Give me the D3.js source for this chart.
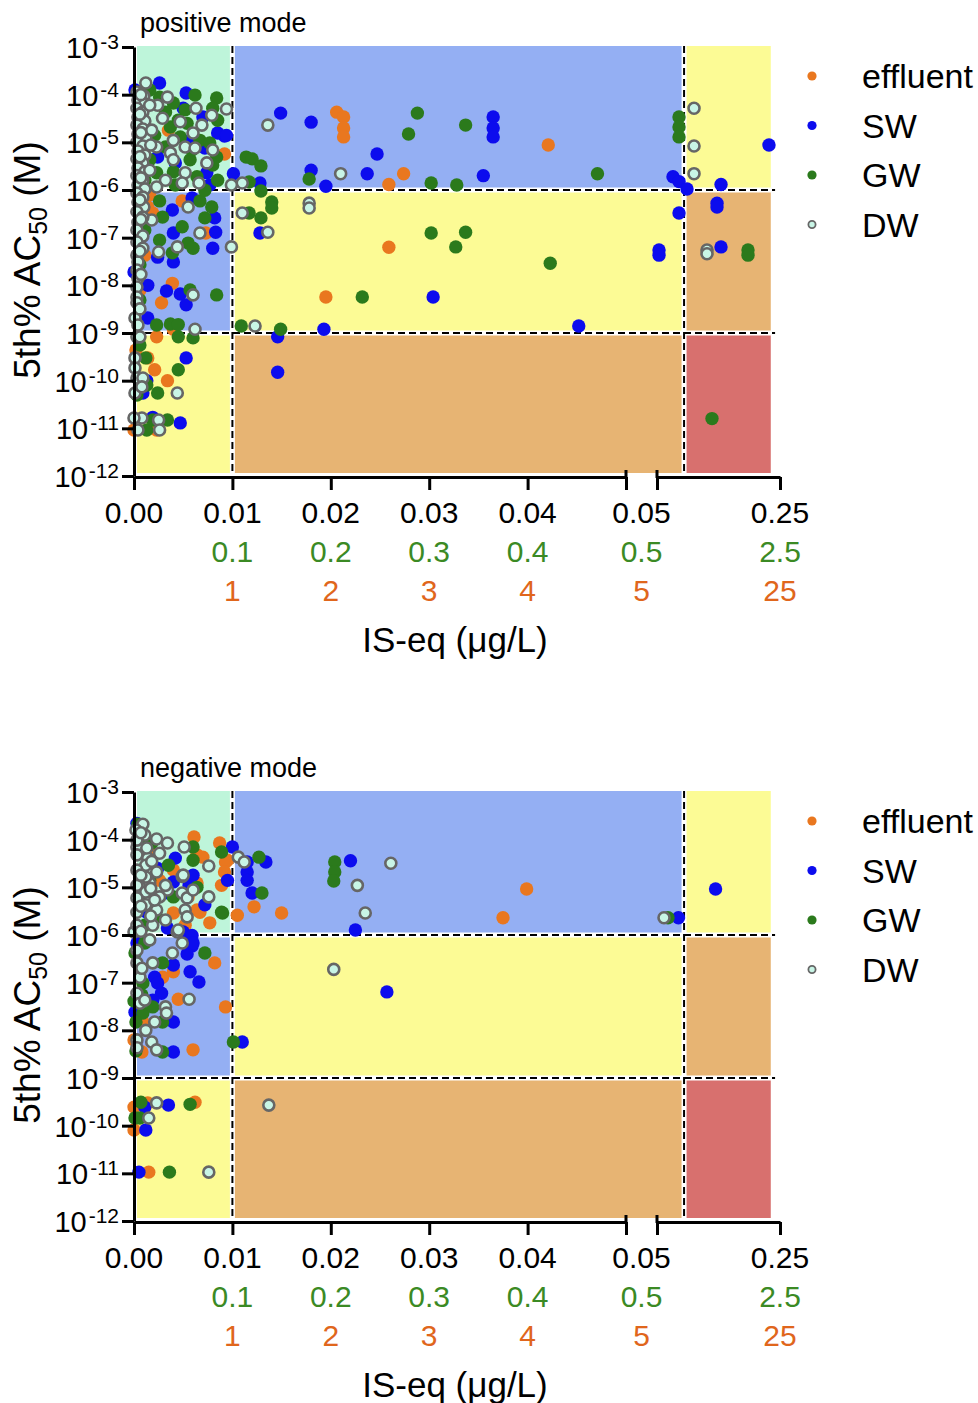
<!DOCTYPE html>
<html>
<head>
<meta charset="utf-8">
<script src="https://cdn.jsdelivr.net/npm/d3@7"></script>
<style>
body { margin: 0; background: #fff; }
text { font-family: "Liberation Sans", Arial, sans-serif; }
</style>
</head>
<body>
<script>
// series and their colours
var series = ["effluent", "SW", "GW", "DW"];
var seriesColor = {effluent: "#e9771f", SW: "#0c0cee", GW: "#2b7a1c", DW: "#c8f5e6"};

// axis ticks and labels
var yTicks = [1e-3, 1e-4, 1e-5, 1e-6, 1e-7, 1e-8, 1e-9, 1e-10, 1e-11, 1e-12];
var xTickValues = [0, 0.01, 0.02, 0.03, 0.04, 0.05, 0.25];
var xTickLabels = ["0.00", "0.01", "0.02", "0.03", "0.04", "0.05", "0.25"];
var greenTickValues = [0.01, 0.02, 0.03, 0.04, 0.05, 0.25];
var greenLabels = ["0.1", "0.2", "0.3", "0.4", "0.5", "2.5"];
var orangeLabels = ["1", "2", "3", "4", "5", "25"];

// zones behind the points
var zoneX = [0, 0.01, 0.094, 0.235];
var zoneY = [1e-3, 1e-6, 1e-9, 1e-12];
var zoneColors = [["#bef5da", "#94aff3", "#fcfb95"],
                  ["#94aff3", "#fcfb95", "#e7b473"],
                  ["#fcfb95", "#e7b473", "#d8706e"]];
var xThresholds = [0.01, 0.094];
var yThresholds = [1e-6, 1e-9];

// [IS-eq (ug/L), 5th% AC50 (M)]  -- positive mode
var posEffluent = [[0.0206,4.3e-5],[0.0213,3.4e-5],[0.0213,2.0e-5],[0.0213,1.3e-5],[0.0421,8.8e-6],[0.0274,2.2e-6],[0.0259,1.3e-6],[0.0259,6.3e-8],[0.0195,5.7e-9],[0.0092,5.7e-6],
  [0.0035,1.8e-5],[0.0065,1.1e-5],[0.0049,5.9e-7],[0.0019,3.3e-7],[0.0014,4.4e-7],[0.0073,1.25e-7],[0.0039,1.1e-8],[0.0028,4.3e-9],[0.0040,1.2e-9],[0.0023,8.3e-10],
  [0.0014,3.0e-10],[0.0021,1.7e-10],[0.0034,1.0e-10],[0.0000,9.2e-12],[0.0023,9.2e-12],[0.0011,4.3e-8],[0.0016,7.9e-7],[0.0002,4.4e-10],[0.0006,8.0e-9]];
var posSW = [[0.0149,4.1e-5],[0.0180,2.65e-5],[0.0365,3.4e-5],[0.0365,2.0e-5],[0.0365,1.3e-5],[0.0247,5.7e-6],[0.0180,2.6e-6],[0.0237,2.2e-6],[0.0355,2.0e-6],[0.0195,1.2e-6],
  [0.0101,2.2e-6],[0.0128,1.4e-6],[0.0092,1.35e-5],[0.0128,1.25e-7],[0.0304,5.7e-9],[0.0193,1.2e-9],[0.0452,1.4e-9],[0.0146,8.3e-10],[0.0146,1.5e-10],
  [0.0760,1.9e-6],[0.0858,1.5e-6],[0.0988,1.05e-6],[0.1541,1.3e-6],[0.1476,5.3e-7],[0.1476,4.4e-7],[0.0858,3.3e-7],[0.0533,5.5e-8],[0.0533,4.3e-8],[0.1541,6.4e-8],[0.2321,8.8e-6],
  [0.0026,1.76e-4],[0.0053,1.08e-4],[0.0070,3.4e-5],[0.0085,1.57e-5],[0.0094,1.4e-5],[0.0024,4.9e-6],[0.0074,2.3e-6],[0.0077,1.27e-6],[0.0059,6.8e-7],[0.0039,3.8e-7],
  [0.0082,2.6e-7],[0.0083,1.3e-7],[0.0040,1.25e-7],[0.0080,6.0e-8],[0.0040,3.1e-8],[0.0024,3.9e-8],[0.0033,7.6e-9],[0.0047,6.6e-9],[0.0053,3.9e-9],[0.0014,1.0e-8],
  [0.0014,2.06e-9],[0.0000,1.9e-8],[0.0053,3.0e-10],[0.0013,1.0e-10],[0.0009,5.5e-11],[0.0019,1.7e-11],[0.0047,1.3e-11],[0.0050,5.2e-5],[0.0072,7.6e-6],[0.0042,3.7e-6],
  [0.0057,1.1e-5],[0.0001,1.25e-4]];
var posGW = [[0.0288,4.1e-5],[0.0279,1.5e-5],[0.0337,2.3e-5],[0.0471,2.2e-6],[0.0114,4.9e-6],[0.0120,4.5e-6],[0.0129,3.2e-6],[0.0178,1.7e-6],[0.0302,1.4e-6],[0.0328,1.27e-6],
  [0.0117,1.47e-6],[0.0129,9.5e-7],[0.0140,5.6e-7],[0.0140,4.2e-7],[0.0117,3.3e-7],[0.0129,2.6e-7],[0.0302,1.25e-7],[0.0337,1.3e-7],[0.0327,6.4e-8],[0.0423,2.9e-8],
  [0.0232,5.7e-9],[0.0109,1.4e-9],[0.0149,1.2e-9],[0.0858,3.4e-5],[0.0858,2.1e-5],[0.0858,1.3e-5],[0.1980,5.5e-8],[0.1980,4.3e-8],[0.1394,1.6e-11],
  [0.0084,8.5e-5],[0.0080,5.2e-5],[0.0085,2.9e-5],[0.0026,8.9e-5],[0.0040,6.7e-5],[0.0052,4.8e-5],[0.0037,2.1e-5],[0.0054,2.5e-5],[0.0047,1.3e-5],[0.0067,1.1e-5],
  [0.0032,8.0e-6],[0.0077,9.7e-6],[0.0084,4.9e-6],[0.0057,4.3e-6],[0.0080,3.35e-6],[0.0040,2.4e-6],[0.0023,2.3e-6],[0.0064,1.9e-6],[0.0085,1.6e-6],[0.0042,1.27e-6],
  [0.0067,5.9e-7],[0.0029,2.7e-7],[0.0079,4.4e-7],[0.0049,1.7e-7],[0.0072,2.6e-7],[0.0026,8.9e-8],[0.0039,4.8e-8],[0.0055,7.7e-8],[0.0060,6.0e-8],[0.0057,8.0e-9],
  [0.0084,6.3e-9],[0.0023,1.47e-9],[0.0037,1.55e-9],[0.0045,1.5e-9],[0.0045,8.3e-10],[0.0060,7.9e-10],[0.0012,3.0e-10],[0.0045,1.7e-10],[0.0013,8.1e-11],[0.0024,5.5e-11],
  [0.0013,9.2e-12],[0.0019,1.5e-11],[0.0034,1.5e-11],[0.0016,1.25e-4],[0.0032,4.3e-5],[0.0062,9.8e-5],[0.0045,2.9e-5],[0.0021,1.4e-5],[0.0059,6.9e-6],[0.0016,4.3e-6],
  [0.0011,1.6e-6],[0.0072,9.9e-7],[0.0026,5.9e-7],[0.0011,1.45e-7],[0.0006,2.7e-8],[0.0006,4.9e-9],[0.0003,5.0e-11],[0.0006,5.6e-10]];
var posDW = [[0.0136,2.3e-5],[0.0210,2.2e-6],[0.0110,1.4e-6],[0.0099,1.27e-6],[0.0094,5.0e-5],[0.0178,5.3e-7],[0.0178,4.2e-7],[0.0110,3.3e-7],[0.0136,1.3e-7],[0.0099,6.4e-8],
  [0.0123,1.4e-9],[0.1102,5.2e-5],[0.1102,8.4e-6],[0.1102,2.2e-6],[0.1313,5.5e-8],[0.1313,4.6e-8],
  [0.0012,1.76e-4],[0.0034,8.9e-5],[0.0024,6.0e-5],[0.0063,5.2e-5],[0.0079,3.7e-5],[0.0029,3.2e-5],[0.0047,2.7e-5],[0.0069,2.3e-5],[0.0060,1.57e-5],[0.0040,1.1e-5],
  [0.0023,8.0e-6],[0.0052,8.0e-6],[0.0062,7.6e-6],[0.0080,6.9e-6],[0.0037,6.0e-6],[0.0040,4.3e-6],[0.0074,3.7e-6],[0.0052,2.3e-6],[0.0032,1.6e-6],[0.0066,1.4e-6],
  [0.0049,1.4e-6],[0.0023,1.16e-6],[0.0055,4.4e-7],[0.0018,2.35e-7],[0.0067,1.25e-7],[0.0025,5.0e-8],[0.0044,6.4e-8],[0.0060,6.3e-9],[0.0062,1.2e-9],[0.0044,5.5e-11],
  [0.0025,1.5e-11],[0.0026,9.2e-12],[0.0008,1.65e-11],[0.0000,1.65e-11],[0.0004,9.2e-12],
  [0.0003,1.14e-4],[0.0010,9.3e-5],[0.0004,7.7e-5],[0.0011,6.4e-5],[0.0003,5.2e-5],[0.0009,4.3e-5],[0.0004,3.4e-5],[0.0011,2.8e-5],[0.0003,2.3e-5],[0.0009,1.9e-5],
  [0.0004,1.5e-5],[0.0012,1.23e-5],[0.0003,1.0e-5],[0.0009,8.4e-6],[0.0004,6.6e-6],[0.0011,5.4e-6],[0.0003,4.5e-6],[0.0009,3.7e-6],[0.0004,2.9e-6],[0.0011,2.4e-6],
  [0.0003,2.0e-6],[0.0009,1.6e-6],[0.0004,1.27e-6],[0.0011,1.05e-6],[0.0003,8.6e-7],[0.0009,7.1e-7],[0.0004,5.6e-7],[0.0010,4.4e-7],[0.0003,3.5e-7],[0.0009,2.7e-7],
  [0.0004,2.1e-7],[0.0003,1.45e-7],[0.0009,1.08e-7],[0.0003,8.1e-8],[0.0009,6.0e-8],[0.0003,4.3e-8],[0.0004,3.1e-8],[0.0003,2.1e-8],[0.0004,1.4e-8],[0.0003,9.2e-9],
  [0.0003,5.7e-9],[0.0003,4.3e-9],[0.0001,2.06e-9],[0.0004,1.47e-9],[0.0003,8.3e-10],[0.0006,8.3e-10],[0.0001,3.0e-10],[0.0001,1.85e-10],[0.0003,1.14e-10],[0.0009,1.14e-10],
  [0.0001,5.5e-11],[0.0008,7.4e-11],[0.0016,6.0e-5],[0.0018,1.8e-5],[0.0016,2.6e-6],[0.0017,8.8e-6],
  [0.0007,1.0e-4],[0.0006,3.9e-5],[0.0007,1.6e-5],[0.0006,5.0e-6],[0.0007,1.8e-6],[0.0006,6.2e-7],[0.0007,2.4e-7],[0.0006,5.2e-8],[0.0007,1.7e-8],[0.0006,3.2e-9]];

// negative mode
var negEffluent = [[0.0061,1.14e-4],[0.0087,8.5e-5],[0.0064,4.8e-5],[0.0070,4.3e-5],[0.0095,3.7e-5],[0.0093,3.4e-5],[0.0092,2.1e-5],[0.0040,2.3e-5],[0.0064,1.23e-5],[0.0089,1.1e-5],
  [0.0122,3.9e-6],[0.0150,2.9e-6],[0.0105,2.6e-6],[0.0067,3.0e-6],[0.0040,2.9e-6],[0.0055,6.3e-6],[0.0064,3.35e-6],[0.0077,1.8e-6],[0.0052,1.6e-6],[0.0399,9.2e-6],
  [0.0375,2.3e-6],[0.0082,2.6e-7],[0.0040,1.7e-7],[0.0029,1.3e-7],[0.0045,4.5e-8],[0.0093,3.1e-8],[0.0060,3.9e-9],[0.0009,1.5e-8],[0.0008,3.5e-9],[0.0000,6.3e-9],
  [0.0000,2.45e-10],[0.0014,3.0e-10],[0.0062,3.1e-10],[0.0000,8.1e-11],[0.0015,1.06e-11],[0.0026,1.4e-5],[0.0016,6.0e-5]];
var negSW = [[0.0003,2.2e-4],[0.0100,7.0e-5],[0.0115,3.4e-5],[0.0134,3.4e-5],[0.0115,2.1e-5],[0.0095,1.4e-5],[0.0115,1.4e-5],[0.0120,7.6e-6],[0.0220,3.6e-5],[0.0225,1.27e-6],
  [0.0849,2.3e-6],[0.1452,9.2e-6],[0.0257,6.4e-8],[0.0110,5.7e-9],[0.0042,4.1e-5],[0.0024,2.5e-5],[0.0060,1.8e-5],[0.0056,1.1e-5],[0.0040,1.3e-5],[0.0072,4.3e-6],
  [0.0035,7.6e-6],[0.0013,3.0e-6],[0.0034,1.4e-6],[0.0050,1.16e-6],[0.0059,9.8e-7],[0.0003,6.8e-7],[0.0059,5.9e-7],[0.0054,4.0e-7],[0.0040,2.35e-7],[0.0057,1.7e-7],
  [0.0021,1.3e-7],[0.0066,1.03e-7],[0.0024,9.8e-8],[0.0028,6.0e-8],[0.0019,4.3e-8],[0.0001,2.4e-8],[0.0040,1.5e-8],[0.0040,3.5e-9],[0.0011,2.45e-10],[0.0035,2.7e-10],
  [0.0012,8.1e-11],[0.0005,1.06e-11],[0.0060,6.8e-7]];
var negGW = [[0.0006,1.08e-4],[0.0018,8.5e-5],[0.0060,7.0e-5],[0.0089,5.5e-5],[0.0127,4.3e-5],[0.0130,7.6e-6],[0.0090,2.9e-6],[0.0204,3.4e-5],[0.0204,2.1e-5],[0.0203,1.36e-5],
  [0.0679,2.3e-6],[0.0101,5.7e-9],[0.0060,3.7e-5],[0.0035,2.9e-5],[0.0064,1.0e-5],[0.0040,6.3e-6],[0.0089,3.0e-6],[0.0023,2.4e-6],[0.0011,1.6e-6],[0.0011,6.8e-7],
  [0.0072,4.2e-7],[0.0001,4.2e-7],[0.0029,2.6e-7],[0.0009,9.8e-8],[0.0008,5.5e-8],[0.0000,4.1e-8],[0.0009,2.3e-8],[0.0019,3.1e-8],[0.0002,1.5e-8],[0.0029,1.5e-8],
  [0.0002,3.7e-9],[0.0029,3.5e-9],[0.0007,3.1e-10],[0.0057,2.8e-10],[0.0006,1.45e-10],[0.0001,1.45e-10],[0.0036,1.06e-11],[0.0004,2.1e-4],[0.0016,1.4e-5],[0.0006,5.4e-6]];
var negDW = [[0.0009,2.1e-4],[0.0003,7.0e-5],[0.0023,1.03e-4],[0.0034,8.5e-5],[0.0051,7.0e-5],[0.0106,4.3e-5],[0.0112,3.4e-5],[0.0076,2.8e-5],[0.0014,4.1e-5],[0.0026,5.2e-5],
  [0.0049,1.7e-5],[0.0016,1.23e-5],[0.0034,8.8e-6],[0.0026,6.3e-6],[0.0049,7.6e-6],[0.0054,6.0e-6],[0.0076,6.3e-6],[0.0052,3.35e-6],[0.0054,2.4e-6],[0.0023,3.35e-6],
  [0.0019,1.6e-6],[0.0044,1.16e-6],[0.0000,1.16e-6],[0.0049,6.8e-7],[0.0039,4.2e-7],[0.0003,2.6e-7],[0.0019,2.6e-7],[0.0006,1.3e-7],[0.0003,6.0e-8],[0.0056,4.5e-8],
  [0.0006,3.7e-8],[0.0032,3.1e-8],[0.0033,2.3e-8],[0.0021,1.5e-8],[0.0003,6.3e-9],[0.0018,5.7e-9],[0.0003,4.3e-9],[0.0023,3.9e-9],[0.0227,1.1e-5],[0.0261,3.2e-5],
  [0.0235,2.9e-6],[0.0614,2.3e-6],[0.0203,1.9e-7],[0.0137,2.7e-10],[0.0023,3.0e-10],[0.0015,1.45e-10],[0.0076,1.06e-11],[0.0050,1.8e-5],[0.0060,8.8e-6],[0.0045,1.27e-6],
  [0.0002,1.6e-4],[0.0011,1.25e-4],[0.0003,9.8e-5],[0.0013,6.7e-5],[0.0003,4.8e-5],[0.0012,2.9e-5],[0.0003,2.3e-5],[0.0023,2.1e-5],[0.0012,1.65e-5],[0.0003,1.1e-5],
  [0.0012,8.0e-6],[0.0003,6.0e-6],[0.0012,4.3e-6],[0.0003,3.0e-6],[0.0032,1.1e-5],[0.0021,5.4e-6],[0.0003,1.6e-6],[0.0032,2.06e-6],[0.0016,7.9e-7],[0.0003,4.8e-7],
  [0.0011,4.3e-8],[0.0007,1.4e-4],[0.0018,3.5e-5],[0.0007,1.8e-5],[0.0017,9.5e-6],[0.0007,4.0e-6],[0.0017,2.5e-6],[0.0007,1.2e-6],[0.0008,2.0e-7],[0.0012,1.0e-8]];

// scales: broken x axis (0-0.05 | 0.05-0.25), log y axis
var xA = d3.scaleLinear().domain([0, 0.05]).range([0, 492]);
var xB = d3.scaleLinear().domain([0.05, 0.25]).range([523, 646]);
function x(v) { return v < 0.05 ? xA(v) : xB(v); }
var y = d3.scaleLog().domain([1e-12, 1e-3]).range([429, 0]);

var svg = d3.select("body").append("svg")
    .attr("width", 978)
    .attr("height", 1403);

function drawPanel(top, title, data) {
    var g = svg.append("g").attr("transform", "translate(134," + top + ")");

    // coloured zones
    for (var r = 0; r < 3; r++) {
        for (var c = 0; c < 3; c++) {
            var x0 = x(zoneX[c]) + (c == 0 ? 3 : 2.5),
                x1 = x(zoneX[c + 1]) - (c == 2 ? 0 : 2.5),
                y0 = y(zoneY[r]) + (r == 0 ? -1 : 2.5),
                y1 = y(zoneY[r + 1]) - (r == 2 ? 3 : 2.5);
            g.append("rect")
                .attr("x", x0).attr("y", y0)
                .attr("width", x1 - x0).attr("height", y1 - y0)
                .attr("fill", zoneColors[r][c]);
        }
    }

    // dashed threshold lines
    g.selectAll(".vth").data(xThresholds).enter().append("line")
        .attr("x1", function(d) { return x(d); })
        .attr("x2", function(d) { return x(d); })
        .attr("y1", -1).attr("y2", 427)
        .attr("stroke", "#000").attr("stroke-width", 2)
        .attr("stroke-dasharray", "7,4");
    g.selectAll(".hth").data(yThresholds).enter().append("line")
        .attr("x1", 0).attr("x2", x(0.242))
        .attr("y1", function(d) { return y(d); })
        .attr("y2", function(d) { return y(d); })
        .attr("stroke", "#000").attr("stroke-width", 2)
        .attr("stroke-dasharray", "7,4");

    // points
    series.forEach(function(s, i) {
        var isDW = s == "DW";
        g.selectAll(".pt" + i).data(data[i]).enter().append("circle")
            .attr("cx", function(d) { return x(d[0]); })
            .attr("cy", function(d) { return y(d[1]); })
            .attr("r", isDW ? 5.5 : 6.7)
            .attr("fill", seriesColor[s])
            .attr("stroke", isDW ? "#666" : "none")
            .attr("stroke-width", isDW ? 2.6 : 0);
    });

    // y axis
    var yAxis = g.append("g")
        .call(d3.axisLeft(y).tickValues(yTicks).tickSize(12).tickSizeOuter(0).tickFormat(""));
    yAxis.selectAll("path, line").attr("stroke", "#000").attr("stroke-width", 3);

    g.selectAll(".ylab").data(yTicks).enter().append("text")
        .attr("x", -15)
        .attr("y", function(d) { return y(d) + 11; })
        .attr("text-anchor", "end")
        .attr("font-size", 29)
        .each(function(d) {
            var t = d3.select(this);
            t.append("tspan").text("10");
            t.append("tspan").attr("dx", 2).attr("dy", -9).attr("font-size", 21)
                .text(Math.round(Math.log10(d)));
        });

    // x axis in two segments
    g.append("g").attr("transform", "translate(0,430)")
        .call(d3.axisBottom(xA).tickValues([0, 0.01, 0.02, 0.03, 0.04, 0.05]).tickSize(13).tickSizeOuter(0).tickFormat(""));
    g.append("g").attr("transform", "translate(0,430)")
        .call(d3.axisBottom(xB).tickValues([0.05, 0.25]).tickSize(13).tickSizeOuter(0).tickFormat(""));
    g.selectAll(".domain, .tick line").attr("stroke", "#000").attr("stroke-width", 3);

    // break marks
    [xA(0.05), xB(0.05)].forEach(function(bx) {
        g.append("line").attr("x1", bx).attr("x2", bx).attr("y1", 423).attr("y2", 431)
            .attr("stroke", "#000").attr("stroke-width", 3);
    });

    function labelX(v) {
        return v == 0.05 ? (xA(0.05) + xB(0.05)) / 2 : x(v);
    }

    g.selectAll(".xlab").data(xTickValues).enter().append("text")
        .attr("x", labelX).attr("y", 476)
        .attr("text-anchor", "middle").attr("font-size", 30)
        .text(function(d, i) { return xTickLabels[i]; });
    g.selectAll(".glab").data(greenTickValues).enter().append("text")
        .attr("x", labelX).attr("y", 515)
        .attr("text-anchor", "middle").attr("font-size", 30).attr("fill", "#3b8a24")
        .text(function(d, i) { return greenLabels[i]; });
    g.selectAll(".olab").data(greenTickValues).enter().append("text")
        .attr("x", labelX).attr("y", 554)
        .attr("text-anchor", "middle").attr("font-size", 30).attr("fill", "#e0661c")
        .text(function(d, i) { return orangeLabels[i]; });

    // axis titles
    g.append("text")
        .attr("x", 321).attr("y", 605)
        .attr("text-anchor", "middle").attr("font-size", 35)
        .text("IS-eq (\u03bcg/L)");

    var yt = g.append("text")
        .attr("transform", "translate(-94,213) rotate(-90)")
        .attr("text-anchor", "middle").attr("font-size", 37);
    yt.append("tspan").text("5th% AC");
    yt.append("tspan").attr("dy", 7).attr("font-size", 25).text("50");
    yt.append("tspan").attr("dy", -7).text(" (M)");

    g.append("text")
        .attr("x", 6).attr("y", -15)
        .attr("font-size", 27)
        .text(title);

    // legend
    var leg = g.selectAll(".leg").data(series).enter().append("g")
        .attr("transform", function(d, i) { return "translate(678," + (29 + i * 49.5) + ")"; });
    leg.append("circle")
        .attr("r", function(d) { return d == "DW" ? 3.6 : 4.6; })
        .attr("fill", function(d) { return seriesColor[d]; })
        .attr("stroke", function(d) { return d == "DW" ? "#666" : "none"; })
        .attr("stroke-width", 1.8);
    leg.append("text")
        .attr("x", 50).attr("y", 12)
        .attr("font-size", 34)
        .text(function(d) { return d; });
}

drawPanel(47, "positive mode", [posEffluent, posSW, posGW, posDW]);
drawPanel(792, "negative mode", [negEffluent, negSW, negGW, negDW]);
</script>
</body>
</html>
